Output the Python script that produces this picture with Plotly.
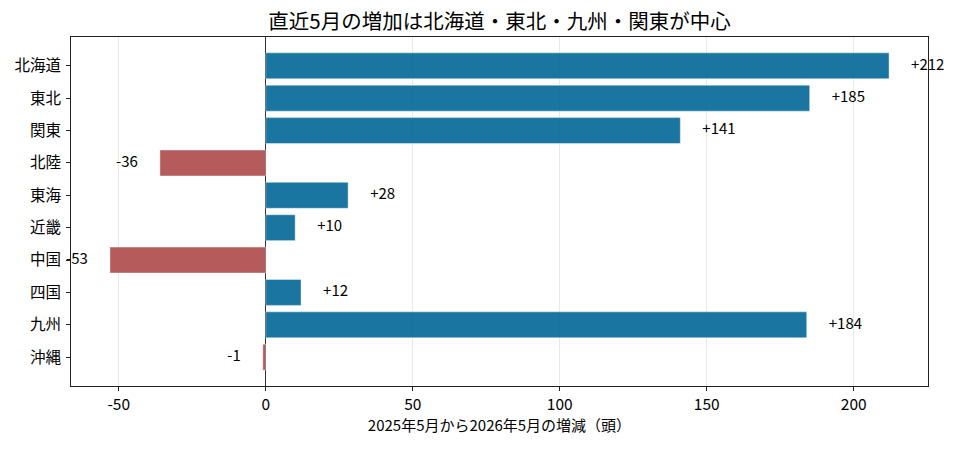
import plotly.graph_objects as go

regions = ["北海道", "東北", "関東", "北陸", "東海", "近畿", "中国", "四国", "九州", "沖縄"]
change = [212, 185, 141, -36, 28, 10, -53, 12, 184, -1]
labels = [f"+{v}" if v > 0 else f"{v}" for v in change]

pos_color = "rgba(2,102,151,0.9)"
neg_color = "rgba(173,73,73,0.9)"
offset = 7.5

font = "Noto Sans CJK JP"

fig = go.Figure()

fig.add_trace(go.Bar(
    x=change, y=regions, orientation="h",
    marker=dict(color=[pos_color if v > 0 else neg_color for v in change],
                line=dict(color="rgba(255,255,255,0.5)", width=0.8)),
    width=0.8, showlegend=False, hoverinfo="skip",
))

fig.add_trace(go.Scatter(
    x=[v + offset if v > 0 else v - offset for v in change], y=regions,
    mode="text", text=labels,
    textposition=["middle right" if v > 0 else "middle left" for v in change],
    textfont=dict(family=font, size=15, color="black"),
    cliponaxis=False, showlegend=False, hoverinfo="skip",
))

# the page has an 8px body margin, so the margins are shifted to match
fig.update_layout(
    width=953, height=449,
    margin=dict(l=63, r=33, t=29, b=71, autoexpand=False),
    paper_bgcolor="white", plot_bgcolor="white",
    font=dict(family=font, size=15.5, color="black"),
    title=dict(text="直近5月の増加は北海道・東北・九州・関東が中心",
               x=0.5, xref="paper", xanchor="center",
               y=1, yref="paper", yanchor="bottom", pad=dict(b=8),
               font=dict(size=20.5, family=font)),
    bargap=0.2,
)

fig.update_xaxes(
    range=[-66.25, 225.25],
    tickvals=[-50, 0, 50, 100, 150, 200],
    ticktext=["-50", "0", "50", "100", "150", "200"],
    showgrid=True, gridcolor="rgba(200,200,200,0.4)", gridwidth=1,
    zeroline=True, zerolinecolor="#333333", zerolinewidth=1,
    showline=True, linecolor="#222222", linewidth=1, mirror=True,
    ticks="outside", ticklen=4, tickcolor="#222222",
    title=dict(text="2025年5月から2026年5月の増減（頭）", standoff=4,
               font=dict(size=15)),
)

fig.update_yaxes(
    categoryorder="array", categoryarray=regions,
    range=[9.89, -0.89],
    showgrid=False, zeroline=False,
    showline=True, linecolor="#222222", linewidth=1, mirror=True,
    ticks="outside", ticklen=4, tickcolor="#222222",
    ticklabelstandoff=2,
)

fig.write_html("out.html")
